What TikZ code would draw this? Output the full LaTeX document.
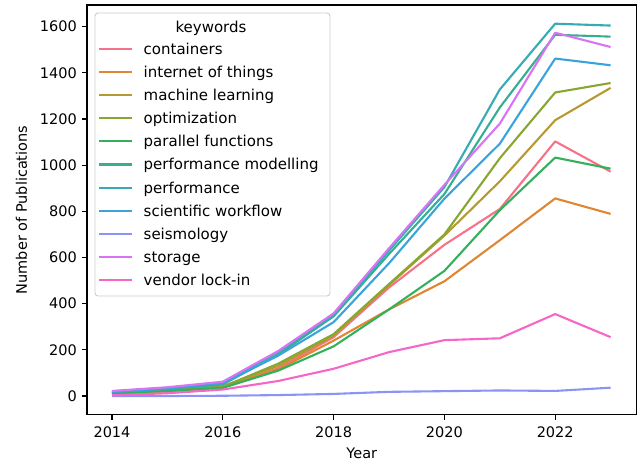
\documentclass[tikz,border=0pt]{standalone}
\usepackage{fontspec}
\setmainfont{DejaVu Sans}
\definecolor{cContainers}{HTML}{F77189}
\definecolor{cIoT}{HTML}{E08532}
\definecolor{cML}{HTML}{B69A31}
\definecolor{cOpt}{HTML}{88A731}
\definecolor{cPar}{HTML}{34B05C}
\definecolor{cPerfMod}{HTML}{35AE91}
\definecolor{cPerf}{HTML}{37ABB3}
\definecolor{cSciWf}{HTML}{3BA3DC}
\definecolor{cSeis}{HTML}{8B93F4}
\definecolor{cStorage}{HTML}{D874F2}
\definecolor{cVendor}{HTML}{F566C6}
\definecolor{legendedge}{HTML}{CCCCCC}
\begin{document}
\begin{tikzpicture}[x=1pt,y=1pt,
  font=\fontsize{14.5}{17}\selectfont,
  series/.style={line width=2.1pt, line join=round},
  axisline/.style={line width=1.1pt, black},
  tickmark/.style={line width=1.1pt, black},
  ticklabel/.style={inner sep=0pt, text=black},
  legendtext/.style={anchor=base west, inner sep=0pt, font=\fontsize{15}{17}\selectfont}]
\useasboundingbox (0,0) rectangle (639,463);

% ---- data (year offset from 2014, number of publications) ----
\begin{scope}[shift={(112pt,67pt)}, x=55.4pt, y=0.2308pt]
  \draw[series, cContainers] plot coordinates {(0,10) (1,20) (2,38) (3,120) (4,255) (5,470) (6,655) (7,810) (8,1103) (9,972)};
  \draw[series, cIoT] plot coordinates {(0,8) (1,20) (2,38) (3,115) (4,240) (5,375) (6,497) (7,675) (8,856) (9,789)};
  \draw[series, cML] plot coordinates {(0,14) (1,25) (2,42) (3,130) (4,262) (5,480) (6,695) (7,930) (8,1195) (9,1335)};
  \draw[series, cOpt] plot coordinates {(0,12) (1,24) (2,40) (3,140) (4,268) (5,485) (6,700) (7,1030) (8,1315) (9,1356)};
  \draw[series, cPar] plot coordinates {(0,12) (1,22) (2,35) (3,110) (4,215) (5,375) (6,542) (7,805) (8,1033) (9,985)};
  \draw[series, cPerfMod] plot coordinates {(0,16) (1,30) (2,50) (3,180) (4,345) (5,615) (6,875) (7,1250) (8,1565) (9,1557)};
  \draw[series, cPerf] plot coordinates {(0,20) (1,35) (2,58) (3,190) (4,350) (5,630) (6,905) (7,1328) (8,1613) (9,1605)};
  \draw[series, cSciWf] plot coordinates {(0,18) (1,33) (2,55) (3,175) (4,320) (5,575) (6,855) (7,1093) (8,1462) (9,1433)};
  \draw[series, cSeis] plot coordinates {(0,0) (1,0) (2,1) (3,4) (4,9) (5,18) (6,21) (7,24) (8,22) (9,36)};
  \draw[series, cStorage] plot coordinates {(0,22) (1,38) (2,62) (3,195) (4,358) (5,640) (6,915) (7,1180) (8,1574) (9,1512)};
  \draw[series, cVendor] plot coordinates {(0,3) (1,12) (2,28) (3,65) (4,118) (5,190) (6,242) (7,250) (8,355) (9,255)};
\end{scope}

% ---- axes frame ----
\draw[axisline] (87,48.5) rectangle (636.7,458);

% ---- y ticks and labels ----
\foreach \v in {0,200,...,1600}{
  \pgfmathsetmacro{\yy}{67+\v*0.2308}
  \draw[tickmark] (87,\yy) -- (81.8,\yy);
  \node[ticklabel, anchor=east] (ylab\v) at (77,\yy) {\v};
}

% ---- x ticks and labels ----
\foreach \k/\yr in {0/2014,1/2016,2/2018,3/2020,4/2022}{
  \pgfmathsetmacro{\xx}{112+\k*110.8}
  \draw[tickmark] (\xx,48.5) -- (\xx,43.3);
  \node[ticklabel, anchor=north] (xlab\yr) at (\xx,36.3) {\yr};
}

% ---- axis titles ----
\node[ticklabel, anchor=north] (xtitle) at (361.8,15) {Year};
\node[ticklabel, rotate=90] (ytitle) at (21.5,253) {Number of Publications};

% ---- legend ----
\draw[legendedge, line width=0.9pt, fill=white, fill opacity=0.8, rounded corners=3pt]
  (95,450) rectangle (330,167);
\node[anchor=base, inner sep=0pt, font=\fontsize{15}{17}\selectfont] (legtitle) at (211,430.7) {keywords};
\foreach \i/\c/\t in {0/cContainers/containers,
                      1/cIoT/internet of things,
                      2/cML/machine learning,
                      3/cOpt/optimization,
                      4/cPar/parallel functions,
                      5/cPerfMod/performance modelling,
                      6/cPerf/performance,
                      7/cSciWf/scientific workflow,
                      8/cSeis/seismology,
                      9/cStorage/storage,
                      10/cVendor/vendor lock-in}{
  \pgfmathsetmacro{\ly}{414-23.1*\i}
  \coordinate (legA\i) at (99,\ly);
  \coordinate (legB\i) at (132,\ly);
  \draw[series, \c] (legA\i) -- (legB\i);
  \node[legendtext] (leg\i) at (143.5,\ly-5.5) {\t};
}
\end{tikzpicture}
\end{document}
